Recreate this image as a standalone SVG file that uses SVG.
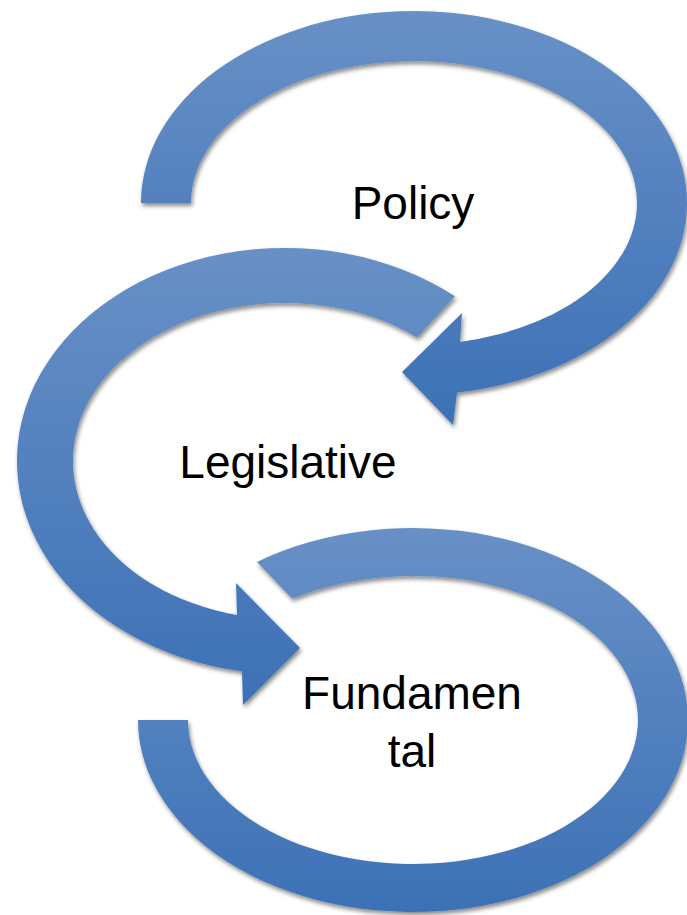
<svg xmlns="http://www.w3.org/2000/svg" width="687" height="915" viewBox="0 0 687 915">
<defs>
<linearGradient id="blue" x1="0" y1="0" x2="0" y2="1">
<stop offset="0" stop-color="#6890c6"/>
<stop offset="1" stop-color="#3c71b6"/>
</linearGradient>
<filter id="shadow" x="-10%" y="-10%" width="120%" height="120%">
<feDropShadow dx="1.5" dy="3" stdDeviation="2.2" flood-color="#000" flood-opacity="0.45"/>
</filter>
</defs>
<style>
.arrow{fill:url(#blue);filter:url(#shadow)}
.label{font-family:"Liberation Sans",Arial,sans-serif;font-size:46px;fill:#000;text-anchor:middle}
</style>
<rect width="687" height="915" fill="#fff"/>
<g id="connectors">
<path id="arrow-policy" class="arrow" d="M141,203 A273,192 0 1 1 457,392.6 L453,425 L402,372 L462,313 L460,342 A223,142 0 1 0 191,203 Z"/>
<path id="arrow-legislative" class="arrow" d="M455,296.3 A268,213 0 1 0 242,671.2 L243,705 L300,648 L236,583 L237,614.9 A212,158 0 1 1 417,337.4 Z"/>
<path id="arrow-fundamental" class="arrow" d="M138,720 A275,192 0 1 0 257,561.9 L292,598.6 A225,144 0 1 1 188,720 Z"/>
</g>
<g id="node-policy">
<text class="label" x="413" y="219">Policy</text>
</g>
<g id="node-legislative">
<text class="label" x="288" y="478">Legislative</text>
</g>
<g id="node-fundamental">
<text class="label" x="412" y="709">Fundamen</text>
<text class="label" x="412" y="767">tal</text>
</g>
</svg>
